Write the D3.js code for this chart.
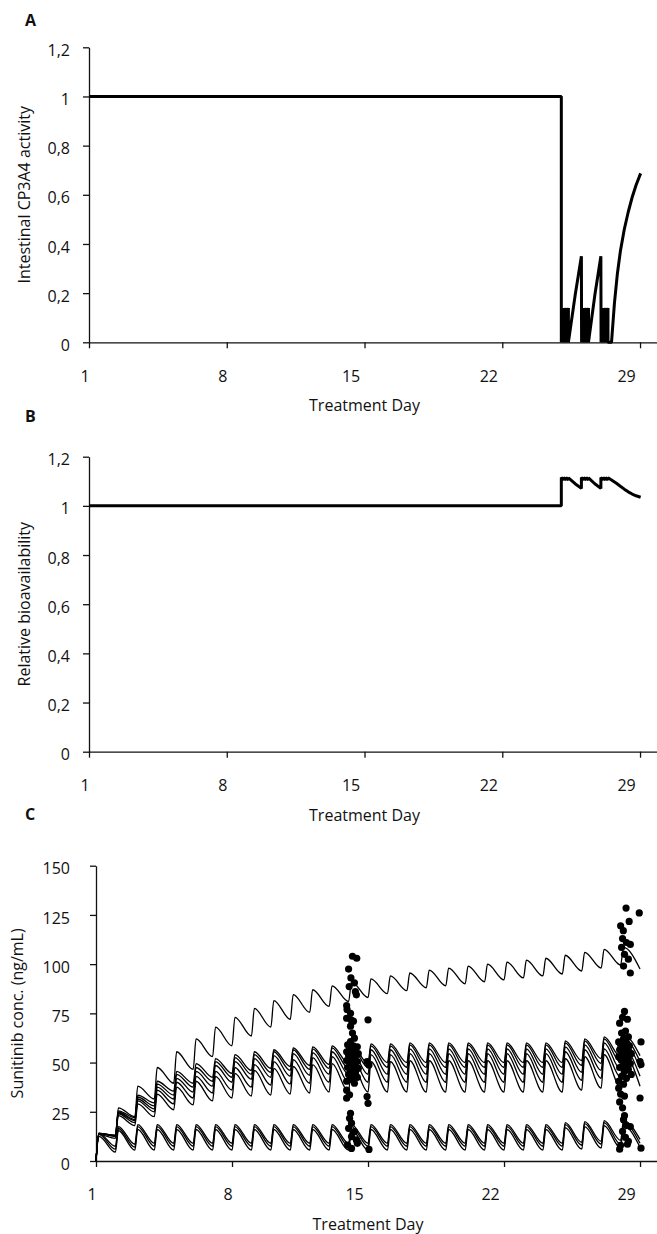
<!DOCTYPE html>
<html>
<head>
<meta charset="utf-8">
<title>CYP3A4 activity, bioavailability and sunitinib concentration</title>
<style>
  body { margin: 0; background: #fff; }
  svg text { font-family: "Open Sans", "Noto Sans", sans-serif; fill: #111; }
</style>
</head>
<body>
<div id="container"></div>
<script src="https://d3js.org/d3.v7.min.js"></script>
<script>
const width = 657;
const height = 1234;

// tick values
const dayTicks = [1, 8, 15, 22, 29];
const fracTicks = [0, 0.2, 0.4, 0.6, 0.8, 1, 1.2];
const concTicks = [0, 25, 50, 75, 100, 125, 150];

// panel A: intestinal CYP3A4 activity
const cypDays = [1, 25, 25, 25.12, 25.12, 25.24, 25.24, 25.36, 25.36, 25.7, 26.02,
  26.03, 26.14, 26.14, 26.26, 26.26, 26.38, 26.38, 26.7, 27.01,
  27.02, 27.13, 27.13, 27.25, 27.25, 27.37, 27.37, 27.55, 27.7, 27.85, 28.0, 28.2, 28.4, 28.6, 28.8, 29.03];
const cypValues = [1, 1, 0, 0.14, 0, 0.14, 0, 0.14, 0, 0.19, 0.35,
  0, 0.14, 0, 0.14, 0, 0.14, 0, 0.19, 0.35,
  0, 0.14, 0, 0.14, 0, 0.14, 0, 0, 0.16, 0.28, 0.37, 0.46, 0.53, 0.59, 0.64, 0.687];

// panel B: relative bioavailability
const bioDays = [1, 25, 25, 25.12, 25.12, 25.24, 25.24, 25.36, 25.36, 25.7, 26.02,
  26.02, 26.14, 26.14, 26.26, 26.26, 26.38, 26.38, 26.7, 27.01,
  27.01, 27.13, 27.13, 27.25, 27.25, 27.37, 27.37, 27.55, 27.8, 28.0, 28.2, 28.4, 28.6, 28.8, 29.03];
const bioValues = [1, 1, 1.115, 1.105, 1.115, 1.105, 1.115, 1.105, 1.114, 1.09, 1.071,
  1.115, 1.105, 1.115, 1.105, 1.115, 1.105, 1.114, 1.09, 1.071,
  1.115, 1.105, 1.115, 1.105, 1.115, 1.105, 1.114, 1.105, 1.092, 1.08, 1.068, 1.057, 1.048, 1.041, 1.035];

// panel C: simulated sunitinib profiles, daily dose
const doseDays = [1, 2, 3, 4, 5, 6, 7, 8, 9, 10, 11, 12, 13, 14, 15, 16, 17, 18, 19, 20, 21, 22, 23, 24, 25, 26, 27, 28];
const peakLag = 0.15;
const lastDay = 29;

const subjects = [
  { name: "H",
    trough: [0, 12.5, 22.5, 31.5, 39.5, 46.5, 53, 58.5, 63.5, 68, 72, 75.5, 78.5, 81, 83, 85, 86.5, 88, 89, 90, 91, 92, 93, 94, 95, 96.5, 98, 99.5],
    peak: [14, 27, 38, 47.5, 55.5, 62, 68, 73, 77.5, 81.5, 84.5, 87, 89, 91, 92.5, 94, 95.5, 97, 98, 99, 100, 101, 102, 103, 104.5, 106, 107.5, 108.5],
    end: 97.5 },
  { name: "M1",
    trough: [0, 13, 22, 29.5, 35.5, 39.5, 42.5, 44.5, 46, 47, 48, 48.5, 49, 49.5, 49.5, 50, 50, 50, 50, 50, 50, 50, 50, 50, 50, 51, 52, 53],
    peak: [14, 25.5, 33.5, 40.5, 45.5, 49.5, 52, 54, 55.5, 56.5, 57.5, 58, 58.5, 59, 59.5, 59.5, 60, 60, 60, 60, 60, 60, 60, 60, 61, 62, 63, 64],
    end: 53.5 },
  { name: "M2",
    trough: [0, 13, 21, 28, 33.5, 37.5, 40.5, 42.5, 44, 45, 46, 46.5, 47, 47, 47.5, 47.5, 47.5, 47.5, 47.5, 47.5, 47.5, 47.5, 47.5, 47.5, 47.5, 48.5, 49.5, 50],
    peak: [14, 25, 32.5, 39, 44, 47.5, 50.5, 52.5, 54, 55.5, 56.5, 57, 57.5, 58, 58.5, 58.5, 59, 59, 59, 59, 59, 59, 59, 59, 60, 61, 62, 62.5],
    end: 50.5 },
  { name: "M3",
    trough: [0, 13, 20.5, 26.5, 31.5, 35, 38, 40, 41.5, 42.5, 43, 43.5, 44, 44, 44, 44, 44, 44, 44, 44, 44, 44, 44, 44, 44, 45, 46, 46.5],
    peak: [14, 24.5, 31.5, 37.5, 42, 45.5, 48.5, 50.5, 52, 53.5, 54.5, 55, 55.5, 56, 56.5, 56.5, 57, 57, 57, 57, 57, 57, 57, 57, 58, 59, 60, 60.5],
    end: 47 },
  { name: "M4",
    trough: [0, 12.5, 19.5, 25, 29, 32, 34.5, 36, 37.5, 38.5, 39, 39.5, 40, 40, 40, 40, 40, 40, 40, 40, 40, 40, 40, 40, 40, 41, 42, 42.5],
    peak: [14, 24, 30.5, 36, 40, 43, 45.5, 47.5, 49, 50.5, 51.5, 52.5, 53, 53.5, 54, 54, 54.5, 54.5, 54.5, 54.5, 54.5, 54.5, 54.5, 54.5, 55.5, 56.5, 57, 57.5],
    end: 43 },
  { name: "M5",
    trough: [0, 11.5, 18, 22.5, 26, 28.5, 30.5, 32, 33, 33.5, 34, 34.5, 35, 35, 35, 35, 35, 35, 35, 35, 35, 35, 35, 35, 35, 36, 37, 37.5],
    peak: [13.5, 23, 29, 34, 37.5, 40.5, 43, 44.5, 46, 47, 48, 49, 49.5, 50, 50.5, 50.5, 51, 51, 51, 51, 51, 51, 51, 51, 52, 53, 54, 54.5],
    end: 38 },
  { name: "L1",
    trough: [0, 7.5, 8.5, 9, 9, 9, 9, 9, 9, 9, 9, 9, 9, 9, 9, 9, 9, 9, 9, 9, 9, 9, 9, 9, 9, 9.5, 10, 10.5],
    peak: [14, 17.5, 18.5, 18.5, 18.5, 18.5, 18.5, 18.5, 18.5, 18.5, 18.5, 18.5, 18.5, 18.5, 18.5, 18.5, 18.5, 18.5, 18.5, 18.5, 18.5, 18.5, 18.5, 18.5, 19.5, 20, 20.5, 20.5],
    end: 11 },
  { name: "L2",
    trough: [0, 6, 7, 7.5, 7.5, 7.5, 7.5, 7.5, 7.5, 7.5, 7.5, 7.5, 7.5, 7.5, 7.5, 7.5, 7.5, 7.5, 7.5, 7.5, 7.5, 7.5, 7.5, 7.5, 7.5, 8, 8.5, 8.5],
    peak: [13.5, 16.5, 17.5, 17.5, 17.5, 17.5, 17.5, 17.5, 17.5, 17.5, 17.5, 17.5, 17.5, 17.5, 17.5, 17.5, 17.5, 17.5, 17.5, 17.5, 17.5, 17.5, 17.5, 17.5, 18.5, 19, 19.5, 19.5],
    end: 9 },
  { name: "L3",
    trough: [0, 4.5, 5.5, 5.5, 5.5, 5.5, 5.5, 5.5, 5.5, 5.5, 5.5, 5.5, 5.5, 5.5, 5.5, 5.5, 5.5, 5.5, 5.5, 5.5, 5.5, 5.5, 5.5, 5.5, 5.5, 6, 6.5, 6.5],
    peak: [12.5, 15.5, 16, 16, 16, 16, 16, 16, 16, 16, 16, 16, 16, 16, 16, 16, 16, 16, 16, 16, 16, 16, 16, 16, 17, 17.5, 18, 18],
    end: 7 }
];

// observed concentrations [day, ng/mL]
const observed = [
  [14.2, 104], [14.42, 103], [14.0, 97.5], [14.12, 93], [14.3, 90.5], [14.03, 88.6], [14.35, 86], [14.4, 84.4],
  [13.9, 79], [13.92, 77], [14.1, 75], [13.9, 72.5], [14.12, 71.7], [14.25, 71], [14.1, 68.5], [14.2, 65],
  [14.3, 62.4], [14.1, 60.7], [13.95, 59], [14.25, 58.5], [14.45, 58], [14.05, 57], [14.3, 56.5], [13.9, 55.5],
  [14.2, 55], [14.5, 54.5], [14.0, 53.5], [14.35, 53], [14.15, 52], [13.9, 51], [14.45, 50.5], [14.05, 50],
  [14.3, 49.5], [14.2, 48], [13.95, 47.5], [14.5, 47], [14.1, 46], [14.35, 45], [14.0, 44], [14.25, 43],
  [14.45, 42.5], [14.1, 41.5], [13.9, 40.5], [14.3, 39.5], [13.9, 36], [14.05, 33.6], [13.9, 31.9],
  [14.1, 24.2], [14.05, 21.7], [14.15, 19.2], [14.0, 16.6], [14.3, 14.9], [14.15, 12.4], [14.4, 10.7],
  [13.95, 8.1], [14.15, 6.4], [14.45, 9],
  [15.0, 71.7], [14.95, 50.5], [15.05, 48.8], [14.95, 32.7], [15.0, 29.3], [15.05, 5.9],
  [28.28, 128.5], [28.96, 126], [28.44, 121.7], [28.0, 119.5], [28.14, 117], [28.1, 113], [28.3, 111], [28.5, 110],
  [28.05, 108.5], [28.2, 105], [28.4, 102.5], [28.15, 99], [28.5, 95.5],
  [28.2, 76], [28.1, 73], [28.35, 72], [27.95, 70], [28.25, 66], [28.05, 65], [28.4, 63], [28.15, 62],
  [27.9, 60.5], [28.3, 60], [28.0, 59], [28.45, 58.5], [28.2, 57.5], [27.95, 56.5], [28.35, 56], [28.1, 55],
  [28.55, 54.5], [28.25, 53.5], [27.9, 53], [28.4, 52], [28.05, 51], [28.3, 50], [28.5, 49.5], [28.15, 48.5],
  [27.95, 47.5], [28.4, 46.5], [28.2, 45.5], [28.55, 44], [28.05, 43], [28.3, 42], [27.9, 40.5], [28.15, 39],
  [27.9, 37], [28.0, 34], [28.2, 33], [27.95, 30], [28.1, 27], [28.2, 23], [28.15, 21], [28.3, 18],
  [28.1, 15], [28.25, 12], [28.4, 10], [28.0, 8], [27.95, 6], [28.35, 8.5], [28.5, 17.5],
  [29.05, 60.5], [29.0, 50.5], [29.05, 49], [29.0, 32], [29.05, 6.5]
];

const comma = d => String(d).replace(".", ",");

const svg = d3.select("#container")
  .append("svg")
  .attr("width", width)
  .attr("height", height)
  .style("display", "block");

svg.append("rect").attr("width", width).attr("height", height).attr("fill", "#fff");

// draws the frame of one panel and hands back its scales
function panel(p) {
  const x = d3.scaleLinear().domain([1, 30]).range([p.left, p.left + 29 * p.dayPx]);
  const y = d3.scaleLinear().domain(p.yDomain).range([p.bottom, p.top]);

  svg.append("text")
    .attr("x", 25).attr("y", p.letterY)
    .style("font-weight", "700").style("font-size", "16px")
    .text(p.letter);

  const xAxis = svg.append("g")
    .attr("transform", `translate(0,${p.bottom})`)
    .call(d3.axisBottom(x).tickValues(dayTicks).tickSize(6).tickSizeOuter(0));
  xAxis.selectAll("text")
    .attr("y", 28)
    .attr("dx", d => -(4.5 + 9.5 * (String(d).length - 1)))
    .style("font-size", "16px");

  const yAxis = svg.append("g")
    .attr("transform", `translate(${p.left},0)`)
    .call(d3.axisLeft(y).tickValues(p.yTicks).tickFormat(p.fmt).tickSize(6).tickSizeOuter(0));
  yAxis.selectAll("text")
    .attr("x", 70 - p.left)
    .attr("y", 3)
    .style("font-size", "16px");

  [xAxis, yAxis].forEach(a => {
    a.selectAll("path, line").attr("stroke", "#111").attr("stroke-width", 1.3);
  });

  svg.append("text")
    .attr("transform", `translate(${p.titleX},${(p.top + p.bottom) / 2}) rotate(-90)`)
    .attr("text-anchor", "middle")
    .style("font-size", "16px")
    .text(p.yTitle);

  svg.append("text")
    .attr("x", (x(1) + x(29)) / 2)
    .attr("y", p.bottom + 69)
    .attr("text-anchor", "middle")
    .style("font-size", "16px")
    .text("Treatment Day");

  return { x, y };
}

const A = panel({ letter: "A", letterY: 25.5, left: 89, dayPx: 19.68, top: 47.3, bottom: 342.3,
  yDomain: [0, 1.2], yTicks: fracTicks, fmt: comma, titleX: 30, yTitle: "Intestinal CP3A4 activity" });
const B = panel({ letter: "B", letterY: 422.3, left: 89, dayPx: 19.68, top: 456.7, bottom: 751.7,
  yDomain: [0, 1.2], yTicks: fracTicks, fmt: comma, titleX: 30, yTitle: "Relative bioavailability" });
const C = panel({ letter: "C", letterY: 820, left: 96, dayPx: 19.43, top: 865.7, bottom: 1161,
  yDomain: [0, 150], yTicks: concTicks, fmt: d => d, titleX: 23, yTitle: "Sunitinib conc. (ng/mL)" });

// panels A and B: thick step-like curves
function thickLine(sc, days, values) {
  svg.append("path")
    .datum(days.map((d, i) => [d, values[i]]))
    .attr("fill", "none")
    .attr("stroke", "#000")
    .attr("stroke-width", 3)
    .attr("stroke-linejoin", "bevel")
    .attr("d", d3.line().x(d => sc.x(d[0])).y(d => sc.y(d[1])));
}
thickLine(A, cypDays, cypValues);
thickLine(B, bioDays, bioValues);

// panel C: saw-tooth profiles
const profile = d3.line()
  .curve(d3.curveMonotoneX)
  .x(d => C.x(d[0]))
  .y(d => C.y(d[1]));

subjects.forEach(s => {
  const pts = [];
  doseDays.forEach((day, i) => {
    pts.push([day, s.trough[i]]);
    pts.push([day + peakLag, s.peak[i]]);
  });
  pts.push([lastDay, s.end]);
  svg.append("path")
    .datum(pts)
    .attr("fill", "none")
    .attr("stroke", "#000")
    .attr("stroke-width", 1.3)
    .attr("d", profile);
});

svg.append("g")
  .selectAll("circle")
  .data(observed)
  .join("circle")
  .attr("cx", d => C.x(d[0]))
  .attr("cy", d => C.y(d[1]))
  .attr("r", 3.6)
  .attr("fill", "#000");
</script>
</body>
</html>
